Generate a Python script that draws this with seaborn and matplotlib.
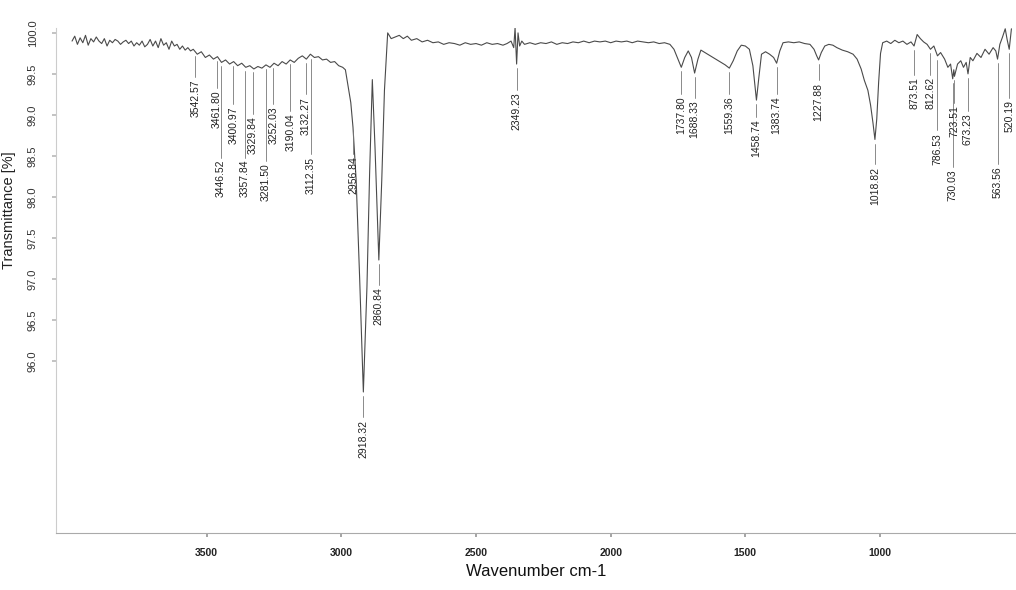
import numpy as np
import pandas as pd
import matplotlib
matplotlib.use("Agg")
import matplotlib.pyplot as plt
import seaborn as sns

# ---- spectrum (wavenumber in cm-1, transmittance in %) ----
wavenumber = [
    4000, 3990, 3980, 3970, 3960, 3950, 3940, 3930, 3920, 3910,
    3900, 3890, 3880, 3870, 3860, 3850, 3840, 3830, 3820, 3810,
    3800, 3790, 3780, 3770, 3760, 3750, 3740, 3730, 3720, 3710,
    3700, 3690, 3680, 3670, 3660, 3650, 3640, 3630, 3620, 3610,
    3600, 3590, 3580, 3570, 3560,
    3550, 3535, 3520, 3505, 3490, 3475, 3460, 3445, 3430, 3415,
    3400, 3385, 3370, 3355, 3340, 3325, 3310, 3295, 3280, 3265,
    3250, 3235, 3220, 3205, 3190, 3175, 3160, 3145, 3130, 3115,
    3100, 3085, 3070, 3055, 3040, 3025, 3010, 2995, 2985,
    2975, 2965, 2956.84, 2945, 2932, 2918.32, 2905, 2895, 2885, 2875,
    2860.84, 2850, 2840, 2828, 2815,
    2800, 2785, 2770, 2755, 2740, 2720, 2700, 2680, 2660, 2640,
    2620, 2600, 2580, 2560, 2540, 2520, 2500, 2480, 2460, 2440,
    2420, 2400, 2385, 2370, 2360, 2355, 2349.23, 2344, 2338, 2330,
    2320, 2300, 2280, 2260, 2240, 2220, 2200, 2180, 2160, 2140,
    2120, 2100, 2080, 2060, 2040, 2020, 2000, 1980, 1960, 1940,
    1920, 1900, 1880, 1860, 1840, 1820, 1800, 1780, 1765, 1750,
    1737.80, 1725, 1712, 1700, 1688.33, 1676, 1665, 1650, 1630, 1610,
    1590, 1575, 1559.36, 1545, 1530, 1515, 1500, 1485, 1472, 1458.74,
    1450, 1440, 1425, 1410, 1395, 1383.74, 1372, 1360, 1340, 1320,
    1300, 1280, 1260, 1245, 1235, 1227.88, 1218, 1205, 1190, 1175,
    1160, 1140, 1120, 1100, 1085, 1070, 1058, 1045, 1035, 1026,
    1018.82, 1012, 1005, 998, 990, 975, 960, 945, 930, 915,
    900, 885, 873.51, 862, 850, 838, 825, 812.62, 800, 786.53,
    775, 760, 748, 738, 730.03, 726, 723.51, 712, 700, 690,
    680, 673.23, 665, 655, 640, 625, 610, 595, 580, 570,
    563.56, 555, 545, 535, 528, 520.19, 512,
]
transmittance = [
    99.90, 99.96, 99.86, 99.94, 99.88, 99.97, 99.85, 99.93, 99.89, 99.95,
    99.90, 99.87, 99.93, 99.84, 99.91, 99.88, 99.92, 99.90, 99.86, 99.89,
    99.91, 99.87, 99.90, 99.84, 99.88, 99.85, 99.90, 99.83, 99.86, 99.92,
    99.84, 99.90, 99.82, 99.93, 99.85, 99.88, 99.80, 99.90, 99.84, 99.86,
    99.80, 99.84, 99.79, 99.82, 99.78,
    99.80, 99.74, 99.77, 99.70, 99.73, 99.68, 99.71, 99.64, 99.67, 99.62,
    99.65, 99.60, 99.63, 99.58, 99.60, 99.56, 99.59, 99.57, 99.61, 99.58,
    99.63, 99.60, 99.65, 99.62, 99.67, 99.64, 99.69, 99.72, 99.68, 99.74,
    99.70, 99.71, 99.67, 99.68, 99.64, 99.65, 99.60, 99.58, 99.55,
    99.35, 99.15, 98.85, 98.20, 97.00, 95.62, 96.90, 98.30, 99.43, 98.60,
    97.23, 98.20, 99.30, 100.00, 99.93,
    99.95, 99.97, 99.93, 99.96, 99.91, 99.93, 99.89, 99.91, 99.88, 99.89,
    99.86, 99.88, 99.87, 99.85, 99.88, 99.86, 99.87, 99.85, 99.88, 99.86,
    99.87, 99.85, 99.87, 99.90, 99.82, 100.06, 99.62, 100.00, 99.84, 99.90,
    99.86, 99.88, 99.86, 99.88, 99.87, 99.89, 99.86, 99.88, 99.87, 99.89,
    99.88, 99.90, 99.88, 99.90, 99.89, 99.90, 99.88, 99.90, 99.89, 99.90,
    99.88, 99.90, 99.89, 99.88, 99.89, 99.87, 99.88, 99.86, 99.80, 99.68,
    99.58, 99.70, 99.78, 99.70, 99.51, 99.68, 99.79, 99.76, 99.72, 99.68,
    99.64, 99.61, 99.57, 99.66, 99.78, 99.85, 99.84, 99.80, 99.60, 99.18,
    99.45, 99.74, 99.77, 99.74, 99.70, 99.63, 99.78, 99.88, 99.89, 99.88,
    99.89, 99.87, 99.86, 99.80, 99.72, 99.67, 99.76, 99.84, 99.86, 99.85,
    99.82, 99.79, 99.77, 99.74, 99.68, 99.56, 99.42, 99.30, 99.12, 98.90,
    98.70, 98.95, 99.40, 99.75, 99.88, 99.90, 99.87, 99.91, 99.88, 99.90,
    99.86, 99.89, 99.84, 99.98, 99.93, 99.89, 99.86, 99.80, 99.84, 99.72,
    99.76, 99.68, 99.58, 99.62, 99.44, 99.55, 99.47, 99.62, 99.66, 99.58,
    99.64, 99.50, 99.70, 99.66, 99.75, 99.70, 99.80, 99.74, 99.82, 99.78,
    99.68, 99.86, 99.95, 100.05, 99.92, 99.80, 100.05,
]

# ---- peak annotations ----
peak_positions = [
    3542.57, 3461.80, 3446.52, 3400.97, 3357.84, 3329.84, 3281.50, 3252.03,
    3190.04, 3132.27, 3112.35, 2956.84, 2918.32, 2860.84, 2349.23, 1737.80,
    1688.33, 1559.36, 1458.74, 1383.74, 1227.88, 1018.82, 873.51, 812.62,
    786.53, 730.03, 723.51, 673.23, 563.56, 520.19,
]
# vertical level (in % units) where each label's text begins
label_levels = [
    99.43, 99.30, 98.45, 99.10, 98.45, 98.98, 98.41, 99.10,
    99.02, 99.22, 98.49, 98.49, 95.28, 96.90, 99.27, 99.22,
    99.18, 99.22, 98.94, 99.22, 99.39, 98.37, 99.46, 99.46,
    98.78, 98.33, 99.12, 99.02, 98.37, 99.18,
]

y_ticks = [96.0, 96.5, 97.0, 97.5, 98.0, 98.5, 99.0, 99.5, 100.0]
x_ticks = [3500, 3000, 2500, 2000, 1500, 1000]

sns.set_theme(style="ticks")
plt.rcParams["font.family"] = ["Liberation Sans", "DejaVu Sans"]

fig = plt.figure(figsize=(10.16, 5.90), dpi=100)
ax = fig.add_axes([0.055, 0.0966, 0.945, 0.856])

spectrum = pd.DataFrame({"wn": wavenumber, "T": transmittance})
sns.lineplot(data=spectrum, x="wn", y="T", ax=ax, estimator=None, sort=False,
             color="#4a4a4a", linewidth=0.8)

ax.set_xlim(4060, 495)
ax.set_ylim(93.90, 100.06)

# peak labels with leader lines
wn_sorted = np.array(wavenumber)[::-1]
t_sorted = np.array(transmittance)[::-1]
for pos, level in zip(peak_positions, label_levels):
    t_at = np.interp(pos, wn_sorted, t_sorted)
    ax.plot([pos, pos], [t_at - 0.05, level + 0.03], color="#777777",
            linewidth=0.6, clip_on=False)
    ax.text(pos, level, f"{pos:.2f}", rotation=90, ha="center", va="top",
            fontsize=7.5, color="#222222", clip_on=False)

ax.set_yticks(y_ticks)
ax.set_yticklabels([f"{v:.1f}" for v in y_ticks])
ax.set_xticks(x_ticks)
ax.set_xticklabels([str(v) for v in x_ticks])
ax.tick_params(axis="y", labelrotation=90, labelsize=8, length=3,
               color="#bbbbbb", labelcolor="#333333", pad=10)
for lbl in ax.get_yticklabels():
    lbl.set_va("center")
ax.tick_params(axis="x", labelsize=7.5, length=3, color="#999999",
               labelcolor="#222222", pad=8)
for lbl in ax.get_xticklabels():
    lbl.set_fontweight("bold")

ax.set_xlabel("Wavenumber cm-1", fontsize=12, color="#111111", labelpad=4)
ax.set_ylabel("Transmittance [%]", fontsize=10.5, color="#222222")
ax.yaxis.set_label_coords(-0.042, 0.64)

sns.despine(ax=ax, top=True, right=True)
ax.spines["left"].set_color("#cccccc")
ax.spines["left"].set_linewidth(0.8)
ax.spines["bottom"].set_color("#aaaaaa")
ax.spines["bottom"].set_linewidth(0.8)

fig.savefig("out.png", dpi=100, facecolor="white")
